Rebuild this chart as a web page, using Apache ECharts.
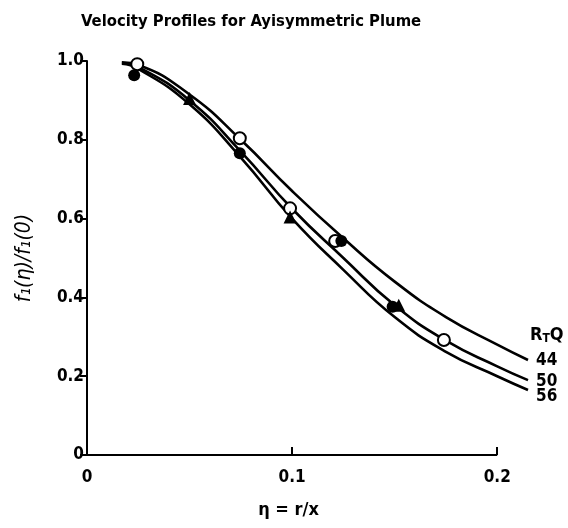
<!DOCTYPE html>
<html>
<head>
<meta charset="utf-8">
<script src="https://cdn.jsdelivr.net/npm/echarts@6/dist/echarts.min.js"></script>
<style>
  html, body { margin: 0; padding: 0; background: #fff; }
  #main { width: 568px; height: 528px; }
</style>
</head>
<body>
<div id="main"></div>
<script>
// 横轴 η = r/x 取样点
var etaPts = [0.017, 0.025, 0.05, 0.075, 0.1, 0.125, 0.15, 0.175, 0.2, 0.215];
// 三条拟合曲线 (R_T Q = 44 / 50 / 56)
var curve44 = [0.997, 0.99, 0.915, 0.80, 0.67, 0.55, 0.44, 0.35, 0.28, 0.241];
var curve50 = [0.995, 0.985, 0.90, 0.77, 0.625, 0.50, 0.38, 0.29, 0.225, 0.19];
var curve56 = [0.993, 0.98, 0.89, 0.755, 0.60, 0.47, 0.35, 0.262, 0.20, 0.165];
var curveNames = ['44', '50', '56'];
// 实验点
var openCircles = [[0.0245, 0.992], [0.0745, 0.804], [0.099, 0.626], [0.121, 0.543], [0.174, 0.292]];
var filledCircles = [[0.023, 0.964], [0.0745, 0.766], [0.124, 0.543], [0.149, 0.376]];
var filledTriangles = [[0.05, 0.905], [0.099, 0.604], [0.152, 0.38]];
// 刻度
var xTicks = [0, 0.1, 0.2];
var yTicks = [0, 0.2, 0.4, 0.6, 0.8, 1.0];

var font = "'Liberation Sans Narrow', 'DejaVu Sans Condensed', 'Liberation Sans', sans-serif";

function pairs(xs, ys) {
  return xs.map(function (x, i) { return [x, ys[i]]; });
}

var chart = echarts.init(document.getElementById('main'), null, { renderer: 'canvas' });

var curveData = [curve44, curve50, curve56];
var labelOffsets = [[0, 1], [0, 1], [0, 7]];

var series = curveData.map(function (c, i) {
  return {
    name: curveNames[i],
    type: 'line',
    data: pairs(etaPts, c),
    smooth: 0.5,
    symbol: 'none',
    lineStyle: { color: '#000', width: 2.6 },
    endLabel: {
      show: true,
      formatter: '{a}',
      color: '#000',
      fontFamily: font,
      fontWeight: 'bold',
      fontSize: 17,
      distance: 8,
      offset: labelOffsets[i]
    },
    z: 2
  };
});

// x 轴线只画到 0.2
series.push({
  type: 'line',
  data: [[xTicks[0], 0], [xTicks[2], 0]],
  symbol: 'none',
  silent: true,
  lineStyle: { color: '#000', width: 2 },
  z: 1
});

series.push({
  type: 'scatter',
  data: openCircles,
  symbol: 'circle',
  symbolSize: 12,
  itemStyle: { color: '#fff', borderColor: '#000', borderWidth: 2, opacity: 1 },
  z: 3
});
series.push({
  type: 'scatter',
  data: filledCircles,
  symbol: 'circle',
  symbolSize: 12,
  itemStyle: { color: '#000', opacity: 1 },
  z: 4
});
series.push({
  type: 'scatter',
  data: filledTriangles,
  symbol: 'triangle',
  symbolSize: 13,
  itemStyle: { color: '#000', opacity: 1 },
  z: 4
});

var option = {
  animation: false,
  backgroundColor: '#fff',
  title: {
    text: 'Velocity Profiles for Ayisymmetric Plume',
    left: 76,
    top: 8,
    textStyle: { fontFamily: font, fontSize: 16.5, fontWeight: 'bold', color: '#000' }
  },
  grid: { left: 87, right: 40, top: 61, bottom: 73, outerBoundsMode: 'none', containLabel: false },
  xAxis: {
    type: 'value',
    min: 0,
    max: 0.215,
    interval: 0.1,
    name: 'η = r/x',
    nameLocation: 'middle',
    nameGap: 46,
    nameTextStyle: {
      fontFamily: font, fontSize: 18, fontWeight: 'bold', color: '#000',
      padding: [0, 38, 0, 0]
    },
    axisLine: { show: false },
    axisTick: {
      show: true, inside: true, length: 8,
      customValues: [xTicks[1], xTicks[2]],
      lineStyle: { color: '#000', width: 2 }
    },
    axisLabel: {
      color: '#000', fontFamily: font, fontSize: 17, fontWeight: 'bold', margin: 14,
      customValues: xTicks,
      formatter: function (v) { return v === xTicks[0] ? '0' : v.toFixed(1); }
    },
    splitLine: { show: false }
  },
  yAxis: {
    type: 'value',
    min: 0,
    max: 1.0,
    interval: 0.2,
    name: 'f₁(η)/f₁(0)',
    nameLocation: 'middle',
    nameGap: 52,
    nameRotate: 90,
    nameTextStyle: { fontFamily: font, fontSize: 21, fontStyle: 'italic', color: '#000' },
    axisLine: { lineStyle: { color: '#000', width: 2 } },
    axisTick: { show: true, length: 7, lineStyle: { color: '#000', width: 2 } },
    axisLabel: {
      color: '#000', fontFamily: font, fontSize: 17, fontWeight: 'bold', margin: 3,
      formatter: function (v) { return v === yTicks[0] ? '0' : v.toFixed(1); }
    },
    splitLine: { show: false }
  },
  graphic: [
    {
      type: 'text',
      left: 530,
      top: 326,
      style: {
        rich: {
          b: { fontFamily: font, fontSize: 18, fontWeight: 'bold', fill: '#000' },
          s: { fontFamily: font, fontSize: 12, fontWeight: 'bold', fill: '#000', verticalAlign: 'bottom', padding: [8, 0, 0, 0] }
        },
        text: '{b|R}{s|T}{b|Q}'
      }
    }
  ],
  series: series
};

chart.setOption(option);
</script>
</body>
</html>
